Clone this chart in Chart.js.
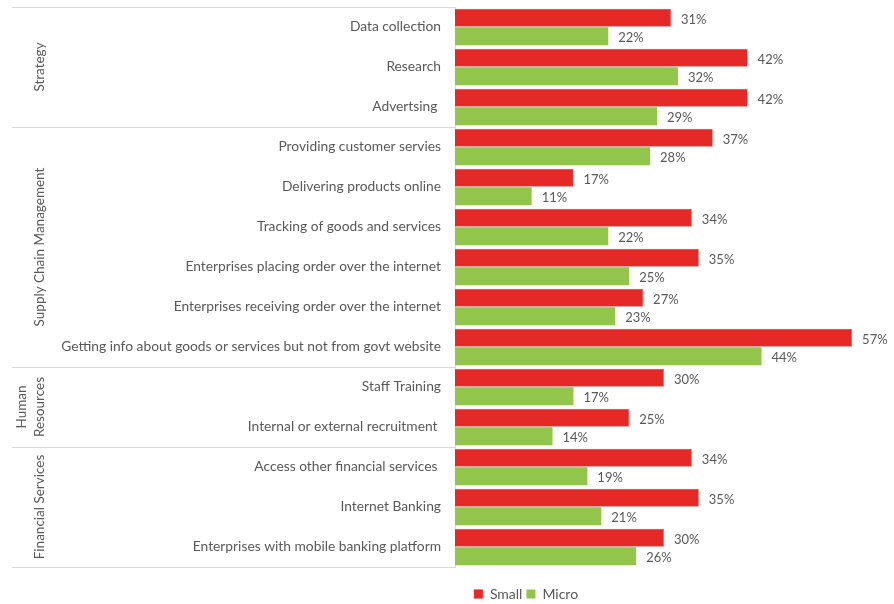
<!DOCTYPE html>
<html>
<head>
<meta charset="utf-8">
<script src="https://cdn.jsdelivr.net/npm/chart.js@4/dist/chart.umd.min.js"></script>
<style>
  html, body { margin: 0; padding: 0; background: #fff; }
  #wrap { width: 894px; height: 604px; }
</style>
</head>
<body>
<div id="wrap"><canvas id="myChart"></canvas></div>
<script>
const activities = [
  "Data collection", "Research", "Advertsing ",
  "Providing customer servies", "Delivering products online", "Tracking of goods and services",
  "Enterprises placing order over the internet", "Enterprises receiving order over the internet",
  "Getting info about goods or services but not from govt website",
  "Staff Training", "Internal or external recruitment ",
  "Access other financial services ", "Internet Banking", "Enterprises with mobile banking platform"
];
const smallValues = [31, 42, 42, 37, 17, 34, 35, 27, 57, 30, 25, 34, 35, 30];
const microValues = [22, 32, 29, 28, 11, 22, 25, 23, 44, 17, 14, 19, 21, 26];
const groupNames = [["Strategy"], ["Supply Chain Management"], ["Human", "Resources"], ["Financial Services"]];
const groupSizes = [3, 6, 2, 3];

const textColor = "#595959";
const lineColor = "#d9d9d9";
const fontFamily = "Lato, 'Open Sans', sans-serif";

// value labels at the end of each bar
const valueLabels = {
  id: "valueLabels",
  afterDatasetsDraw(chart) {
    const ctx = chart.ctx;
    ctx.save();
    ctx.font = "13px " + fontFamily;
    ctx.fillStyle = textColor;
    ctx.textAlign = "left";
    ctx.textBaseline = "middle";
    chart.data.datasets.forEach((ds, i) => {
      chart.getDatasetMeta(i).data.forEach((bar, j) => {
        ctx.fillText(ds.data[j] + "%", bar.x + 10, bar.y + 2);
      });
    });
    ctx.restore();
  }
};

// group separators and rotated group names on the left
const groupAxis = {
  id: "groupAxis",
  afterDraw(chart) {
    const ctx = chart.ctx;
    const y = chart.scales.y;
    const area = chart.chartArea;
    const half = (y.getPixelForValue(1) - y.getPixelForValue(0)) / 2;
    ctx.save();
    ctx.strokeStyle = lineColor;
    ctx.lineWidth = 1;
    let start = 0;
    const edges = [area.top];
    groupSizes.forEach(n => {
      start += n;
      edges.push(y.getPixelForValue(start - 1) + half);
    });
    edges.forEach(py => {
      const yy = Math.round(py) + 0.5;
      ctx.beginPath();
      ctx.moveTo(12, yy);
      ctx.lineTo(area.left, yy);
      ctx.stroke();
    });
    ctx.font = "13.5px " + fontFamily;
    ctx.fillStyle = textColor;
    ctx.textAlign = "center";
    ctx.textBaseline = "middle";
    groupNames.forEach((lines, g) => {
      const mid = (edges[g] + edges[g + 1]) / 2;
      const lh = 18;
      lines.forEach((t, k) => {
        const x = 40 - (lines.length - 1 - k) * lh;
        ctx.save();
        ctx.translate(x, mid);
        ctx.rotate(-Math.PI / 2);
        ctx.fillText(t, 0, 0);
        ctx.restore();
      });
    });
    ctx.restore();
  }
};

// keep the legend centred under the bars rather than the whole canvas
const legendShift = {
  id: "legendShift",
  afterLayout(chart) {
    const lg = chart.legend;
    const centre = 526;
    const w = lg.right - lg.left;
    lg.left = centre - w / 2;
    lg.right = centre + w / 2;
    lg.top += 7;
    lg.bottom += 7;
  }
};

new Chart("myChart", {
  type: "bar",
  data: {
    labels: activities,
    datasets: [
      { label: "Small", data: smallValues, backgroundColor: "#e42926", borderColor: "#ec6a66", borderWidth: { top: 0.5, right: 0.5, bottom: 0.5 }, borderSkipped: "left" },
      { label: "Micro", data: microValues, backgroundColor: "#92c54b" }
    ]
  },
  options: {
    indexAxis: "y",
    responsive: true,
    maintainAspectRatio: false,
    animation: false,
    categoryPercentage: 0.92,
    barPercentage: 0.98,
    layout: { padding: { top: 7, left: 0, right: 21, bottom: 0 } },
    scales: {
      x: {
        min: 0,
        max: 60,
        ticks: { display: false },
        grid: { display: false },
        border: { display: false },
        afterFit(scale) { scale.height = 9; }
      },
      y: {
        grid: { display: false, drawTicks: false },
        border: { color: lineColor, width: 1 },
        ticks: {
          color: textColor,
          font: { family: fontFamily, size: 13.8 },
          padding: 14,
          autoSkip: false
        },
        afterFit(scale) {
          scale.width = 455;
          scale.paddingTop = 0;
          scale.paddingBottom = 0;
        }
      }
    },
    plugins: {
      legend: {
        position: "bottom",
        labels: {
          boxWidth: 9,
          boxHeight: 9,
          padding: 4,
          color: textColor,
          font: { family: fontFamily, size: 14 }
        }
      },
      tooltip: { enabled: false }
    }
  },
  plugins: [valueLabels, groupAxis, legendShift]
});
</script>
</body>
</html>
